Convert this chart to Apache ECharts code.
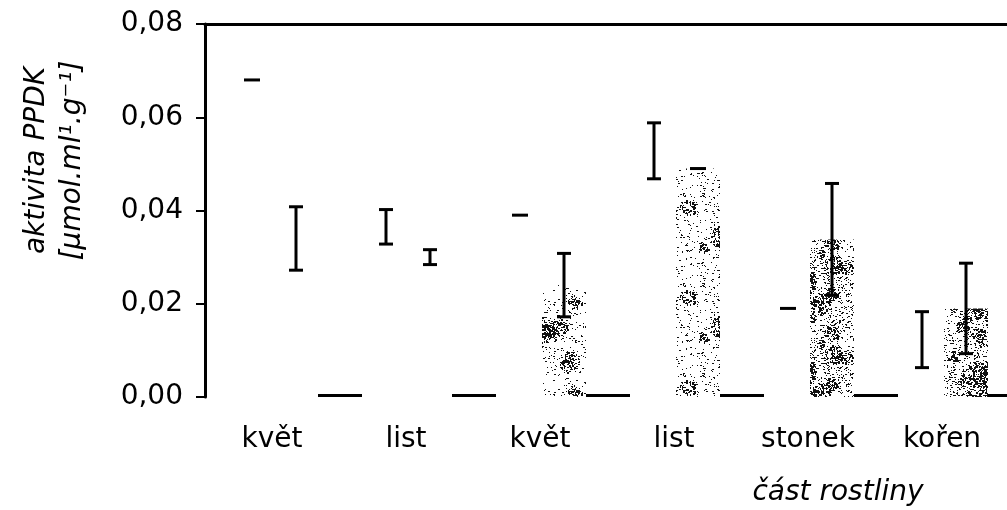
<!DOCTYPE html>
<html>
<head>
<meta charset="utf-8">
<script src="https://cdn.jsdelivr.net/npm/echarts@6/dist/echarts.min.js"></script>
<style>
  html, body { margin: 0; padding: 0; background: #fff; }
  #chart { width: 1007px; height: 510px; }
</style>
</head>
<body>
<div id="chart"></div>
<script>
// Plant parts on the horizontal axis
const categories = ['květ', 'list', 'květ', 'list', 'stonek', 'kořen'];
// Y axis ticks
const yTicks = [0, 0.02, 0.04, 0.06, 0.08];

// First bar of each group (white) with its error
const whiteMean = [0.068, 0.0365, 0.039, 0.0528, 0.019, 0.0123];
const whiteErr  = [0, 0.0037, 0, 0.006, 0, 0.006];
// Second bar (stippled for the last four parts) with its error
const speckMean = [0.034, 0.030, 0.024, 0.049, 0.0338, 0.019];
const speckErr  = [0.0068, 0.0016, 0.0068, 0, 0.012, 0.0097];
// Third bar: zero activity
const zeroMean  = [0, 0, 0, 0, 0, 0];

const FONT = 'DejaVu Sans';
const BAR_W = 44;

// Stipple texture built from a fixed LCG so it is the same on every load
function stipple(density, seed) {
  const size = 90;
  const c = document.createElement('canvas');
  c.width = size; c.height = size;
  const g = c.getContext('2d');
  g.fillStyle = '#ffffff';
  g.fillRect(0, 0, size, size);
  let s = seed;
  const rnd = () => { s = (s * 1103515245 + 12345) % 2147483648; return s / 2147483648; };
  g.fillStyle = '#111111';
  // clumps
  const clumps = Math.round(density * 14);
  for (let k = 0; k < clumps; k++) {
    const cx = rnd() * size, cy = rnd() * size, r = 4 + rnd() * 7;
    const n = Math.round(r * r * 0.9);
    for (let i = 0; i < n; i++) {
      const a = rnd() * Math.PI * 2, d = Math.sqrt(rnd()) * r;
      const x = (cx + Math.cos(a) * d + size) % size, y = (cy + Math.sin(a) * d + size) % size;
      g.fillRect(Math.floor(x), Math.floor(y), 1 + (rnd() < 0.4 ? 1 : 0), 1 + (rnd() < 0.4 ? 1 : 0));
    }
  }
  // scattered dots
  const dots = Math.round(density * 900);
  for (let i = 0; i < dots; i++) {
    g.fillRect(Math.floor(rnd() * size), Math.floor(rnd() * size), 1 + (rnd() < 0.3 ? 1 : 0), 1);
  }
  return { image: c, repeat: 'repeat' };
}

const lightStipple = stipple(0.5, 12345);
const darkStipple = stipple(1.2, 98765);
const speckColors = ['#ffffff', '#ffffff', lightStipple, lightStipple, darkStipple, darkStipple];

// error bar rows: [category index, mean, error, slot in group]
const errRows = [];
whiteMean.forEach((m, i) => errRows.push([i, m, whiteErr[i], -1]));
speckMean.forEach((m, i) => errRows.push([i, m, speckErr[i], 0]));

function renderErr(params, api) {
  const idx = api.value(0), mean = api.value(1), err = api.value(2), slot = api.value(3);
  const c = api.coord([idx, mean]);
  const top = api.coord([idx, mean + err]);
  const bot = api.coord([idx, mean - err]);
  const x = c[0] + slot * BAR_W;
  const half = 7;
  const style = { stroke: '#000', lineWidth: 3, fill: null };
  if (err === 0) {
    return { type: 'line', shape: { x1: x - half - 1, y1: c[1], x2: x + half + 1, y2: c[1] }, style: { stroke: '#000', lineWidth: 3 } };
  }
  return {
    type: 'group',
    children: [
      { type: 'line', shape: { x1: x, y1: top[1], x2: x, y2: bot[1] }, style },
      { type: 'line', shape: { x1: x - half, y1: top[1], x2: x + half, y2: top[1] }, style },
      { type: 'line', shape: { x1: x - half, y1: bot[1], x2: x + half, y2: bot[1] }, style }
    ]
  };
}

const chart = echarts.init(document.getElementById('chart'), null, { renderer: 'canvas' });

chart.setOption({
  animation: false,
  backgroundColor: '#ffffff',
  grid: [
    // frame: y axis, category labels and top line
    { left: 205, right: -2, top: 24, bottom: 113, containLabel: false, outerBoundsMode: 'none' },
    // bars
    { left: 229, right: -26, top: 24, bottom: 113, containLabel: false, outerBoundsMode: 'none' }
  ],
  xAxis: [
    {
      type: 'category', gridIndex: 0, data: categories, position: 'bottom',
      axisLine: { show: false }, axisTick: { show: false },
      axisLabel: { color: '#000', fontFamily: FONT, fontSize: 28, margin: 29 },
      name: 'část rostliny', nameLocation: 'middle', nameGap: 82,
      nameTextStyle: { color: '#000', fontFamily: FONT, fontSize: 28, fontStyle: 'italic', padding: [0, 0, 0, 462] }
    },
    {
      type: 'category', gridIndex: 0, data: categories, position: 'top',
      axisLine: { show: true, lineStyle: { color: '#000', width: 3 } },
      axisTick: { show: false }, axisLabel: { show: false }
    },
    {
      type: 'category', gridIndex: 1, data: categories, show: false
    }
  ],
  yAxis: [
    {
      type: 'value', gridIndex: 0, min: yTicks[0], max: yTicks[yTicks.length - 1], interval: 0.02,
      axisLine: { show: true, lineStyle: { color: '#000', width: 3 } },
      axisTick: { show: true, length: 9, lineStyle: { color: '#000', width: 2 } },
      splitLine: { show: false },
      axisLabel: {
        color: '#000', fontFamily: FONT, fontSize: 28, margin: 22,
        formatter: v => v.toFixed(2).replace('.', ',')
      },
      name: 'aktivita PPDK\n[µmol.ml¹.g⁻¹]',
      nameLocation: 'middle', nameRotate: 90, nameGap: 114,
      nameTextStyle: {
        color: '#000', fontFamily: FONT, fontSize: 28, fontStyle: 'italic',
        lineHeight: 36, padding: [0, 0, 0, 100]
      }
    },
    {
      type: 'value', gridIndex: 1, min: yTicks[0], max: yTicks[yTicks.length - 1], interval: 0.02, show: false
    }
  ],
  series: [
    {
      type: 'bar', xAxisIndex: 2, yAxisIndex: 1, barWidth: BAR_W, barGap: '0%',
      data: whiteMean, itemStyle: { color: '#ffffff' }
    },
    {
      type: 'bar', xAxisIndex: 2, yAxisIndex: 1, barWidth: BAR_W, barGap: '0%',
      data: speckMean.map((v, i) => ({ value: v, itemStyle: { color: speckColors[i] } }))
    },
    {
      type: 'bar', xAxisIndex: 2, yAxisIndex: 1, barWidth: BAR_W, barGap: '0%', barMinHeight: 3,
      data: zeroMean, itemStyle: { color: '#000' }
    },
    {
      type: 'custom', xAxisIndex: 2, yAxisIndex: 1, renderItem: renderErr,
      data: errRows, z: 10
    }
  ]
});
</script>
</body>
</html>
